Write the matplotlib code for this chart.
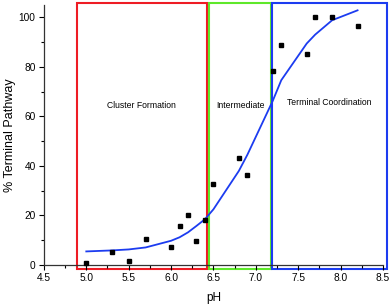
import numpy as np
import matplotlib
matplotlib.use('Agg')
import matplotlib.pyplot as plt
from matplotlib.patches import Rectangle
from matplotlib.ticker import MultipleLocator

plt.rcParams['font.family'] = ['Liberation Sans', 'DejaVu Sans']

# measured data (black squares)
ph = [5.0, 5.3, 5.5, 5.7, 6.0, 6.1, 6.2, 6.3, 6.4, 6.5, 6.8, 6.9, 7.2, 7.3, 7.6, 7.7, 7.9, 8.2]
pathway = [0.8, 5.2, 1.5, 10.4, 7.1, 15.9, 20.2, 9.8, 18.1, 32.7, 43.1, 36.4, 78.2, 89.0, 85.1, 100.1, 100.1, 96.4]

# fitted curve (blue)
fit_ph = [5.0, 5.3, 5.5, 5.7, 6.0, 6.1, 6.2, 6.3, 6.4, 6.5, 6.8, 6.9, 7.2, 7.3, 7.6, 7.7, 7.9, 8.2]
fit_val = [5.5, 5.9, 6.3, 7.1, 9.8, 11.2, 13.2, 15.8, 18.5, 22.5, 38.0, 44.5, 66.3, 74.6, 89.4, 93.0, 98.8, 102.8]

# regions: (start, end, colour, label, label y)
regions = [
    (4.89, 6.42, '#ee1c24', 'Cluster Formation', 64.3),
    (6.45, 7.18, '#5ee82a', 'Intermediate', 64.3),
    (7.19, 8.55, '#1c3cf0', 'Terminal Coordination', 65.5),
]

fig = plt.figure(figsize=(3.92, 3.05), dpi=100)
ax = fig.add_axes([0.112, 0.131, 0.865, 0.853])

for x0, x1, col, name, ty in regions:
    ax.add_patch(Rectangle((x0, -1.6), x1 - x0, 107.2, fill=False, edgecolor=col,
                           linewidth=1.5, clip_on=False, zorder=1))
    ax.text((x0 + x1) / 2, ty, name, fontsize=6.2, ha='center', va='center')

ax.plot(fit_ph, fit_val, color='#1c3cf0', linewidth=1.3, zorder=3, clip_on=False)
ax.plot(ph, pathway, 's', color='black', markersize=3.3, zorder=4, clip_on=False)

ax.set_xlim(4.5, 8.5)
ax.set_ylim(0, 105)
ax.xaxis.set_major_locator(MultipleLocator(0.5))
ax.xaxis.set_minor_locator(MultipleLocator(0.25))
ax.yaxis.set_minor_locator(MultipleLocator(10))
ax.set_yticks([0, 20, 40, 60, 80, 100])

for s in ['top', 'right']:
    ax.spines[s].set_visible(False)
for s in ['left', 'bottom']:
    ax.spines[s].set_linewidth(0.9)
    ax.spines[s].set_color('#333333')

ax.tick_params(which='major', direction='out', length=3.5, width=0.8, labelsize=7.3, pad=2.5)
ax.tick_params(which='minor', direction='out', length=2, width=0.8)

ax.set_xlabel('pH', fontsize=8.5, labelpad=6)
ax.set_ylabel('% Terminal Pathway', fontsize=9, labelpad=2)

fig.savefig('out.png', dpi=100)
